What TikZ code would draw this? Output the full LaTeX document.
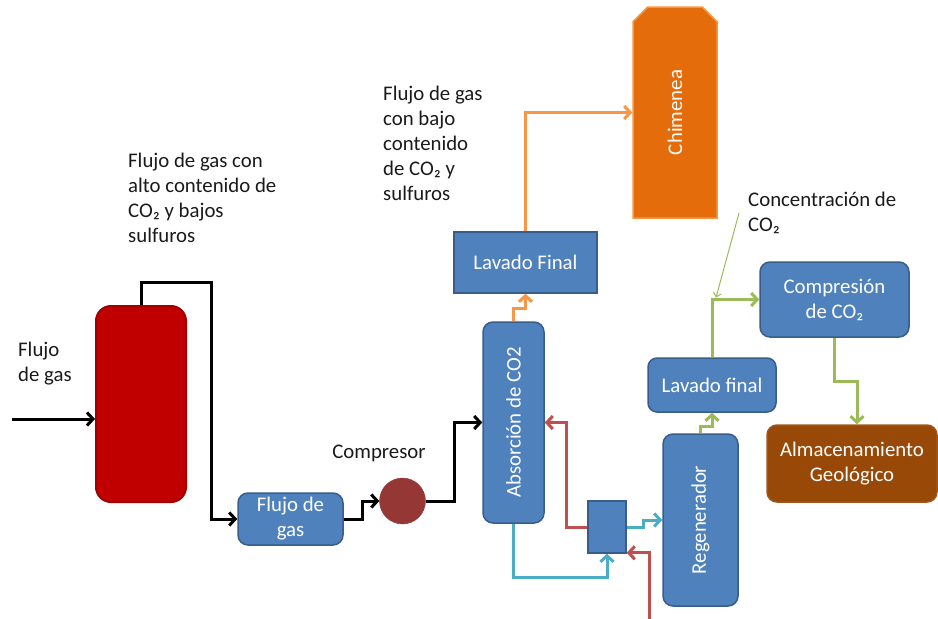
\documentclass[tikz,border=0pt]{standalone}
\usepackage{fontspec}
\setmainfont{Carlito}
\usepackage{xcolor}
\usepackage{graphicx}
\usepackage{tikz}
\usetikzlibrary{shapes.misc, arrows.meta, positioning, calc}
\definecolor{boxblue}{HTML}{4F81BD}
\definecolor{boxedge}{HTML}{385D8A}
\definecolor{tankred}{HTML}{C00000}
\definecolor{tankedge}{HTML}{A20000}
\definecolor{pumpred}{HTML}{953735}
\definecolor{chimorange}{HTML}{E46C0A}
\definecolor{chimedge}{HTML}{F79646}
\definecolor{storebrown}{HTML}{984807}
\definecolor{storeedge}{HTML}{A0561A}
\definecolor{lineorange}{HTML}{F79646}
\definecolor{linered}{HTML}{C0504D}
\definecolor{linecyan}{HTML}{4BACC6}
\definecolor{linegreen}{HTML}{9BBB59}
\definecolor{textdark}{HTML}{1A1A1A}
\tikzstyle{unit} = [rectangle, rounded corners=10pt, draw=boxedge, fill=boxblue, line width=1.5pt, text=white, align=center, inner sep=0pt]
\tikzstyle{washer} = [rectangle, draw=boxedge, fill=boxblue, line width=1.5pt, text=white, align=center, inner sep=0pt]
\tikzstyle{note} = [align=left, anchor=north west, inner sep=0pt, text=textdark]
\tikzstyle{pipe} = [-{Straight Barb[length=6pt, width=13pt]}, line width=3pt]

\begin{document}
\begin{tikzpicture}[x=1pt, y=-1pt, font=\fontsize{20.8}{25}\selectfont]
    \useasboundingbox (0,0) rectangle (938,619);

    % Equipment
    \node[rectangle, rounded corners=15pt, draw=tankedge, fill=tankred, line width=2pt, minimum width=90pt, minimum height=196pt] (tank) at (141,404) {};
    \node[unit, minimum width=105pt, minimum height=52pt] (flujo) at (290.5,519) {Flujo de\\gas};
    \node[circle, draw=pumpred, fill=pumpred, minimum size=46pt, inner sep=0pt] (comp) at (402.5,501) {};
    \node[unit, minimum width=61pt, minimum height=201pt] (absorb) at (513.5,422.5) {\rotatebox{90}{Absorción de CO2}};
    \node[washer, minimum width=38pt, minimum height=52pt] (mixer) at (607,527) {};
    \node[unit, minimum width=75pt, minimum height=172pt] (regen) at (700.5,520) {\rotatebox{90}{Regenerador}};
    \node[unit, rounded corners=9pt, minimum width=128pt, minimum height=54pt] (lavf) at (712,385) {Lavado final};
    \node[unit, minimum width=149pt, minimum height=75pt] (compco2) at (834.5,299.5) {Compresión\\de CO₂};
    \node[unit, draw=storeedge, fill=storebrown, minimum width=170pt, minimum height=77pt] (almac) at (852,463.5) {Almacenamiento\\Geológico};
    \node[washer, minimum width=143pt, minimum height=61pt] (lavF) at (525.5,262.5) {Lavado Final};
    \node[chamfered rectangle, chamfered rectangle corners={north west, north east}, chamfered rectangle xsep=7.5pt, chamfered rectangle ysep=8.5pt, draw=chimedge, fill=chimorange, line width=1.5pt, text=white, inner sep=0pt, minimum width=84pt, minimum height=211pt] (chim) at (675,112.5) {\rotatebox{90}{Chimenea}};

    % Labels
    \node[note] (inlab) at (18,342) {Flujo\\de gas};
    \node[note] (highlab) at (128,153) {Flujo de gas con\\alto contenido de\\CO₂ y bajos\\sulfuros};
    \node[note] (lowlab) at (383,86) {Flujo de gas\\con bajo\\contenido\\de CO₂ y\\sulfuros};
    \node[note] (conclab) at (748,192) {Concentración de\\CO₂};
    \node[text=textdark, inner sep=0pt] (complab) at (379,453) {Compresor};

    % Gas line
    \coordinate (gasin) at (12,419);
    \draw[pipe] (gasin) -- (gasin -| tank.west);
    \draw[pipe] (tank.north) |- ++(70,-23) |- (flujo.west);
    \draw[pipe] (flujo.east) -- ++(19,0) |- (comp.west);
    \draw[pipe] (comp.east) -- ++(29,0) |- (absorb.west);

    % Clean gas to stack
    \draw[pipe, lineorange] (absorb.north) -- ++(0,-13) -| (lavF.south);
    \draw[pipe, lineorange] (lavF.north) |- (chim.west);

    % Solvent loop
    \draw[pipe, linered] (mixer.west) -- ++(-21,0) |- (absorb.east);
    \draw[pipe, linecyan] (absorb.south) -- ++(0,54) -| (mixer.south);
    \draw[pipe, linecyan] (mixer.east) -- ++(17,0) |- (regen.west);
    \coordinate (solvin) at (649,619);
    \draw[pipe, linered] (solvin) |- ($(mixer.south east)+(0,-1)$);

    % CO2 line
    \draw[pipe, linegreen] (regen.north) -- ++(0,-7) -| (lavf.south);
    \draw[pipe, linegreen] (lavf.north) |- (compco2.west);
    \draw[pipe, linegreen] (compco2.south) -- ++(0,44) -| ($(almac.north)+(5,0)$);
    \coordinate (junc) at (lavf.north |- compco2.west);
    \draw[linegreen, line width=1pt, -{Straight Barb[length=4pt, width=8pt]}] ($(conclab.west)+(-9,0)$) -- ($(junc)+(4,-2)$);
\end{tikzpicture}
\end{document}
